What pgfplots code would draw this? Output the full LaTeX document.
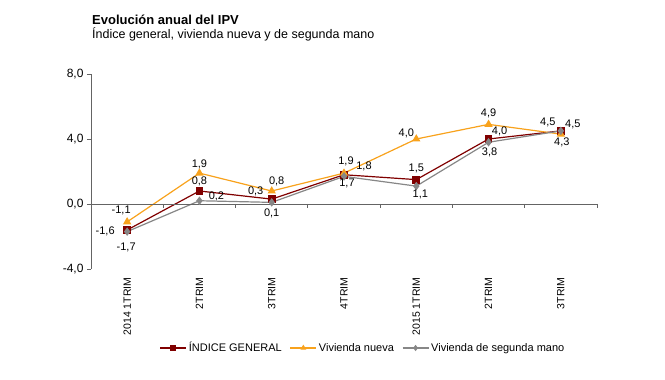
\documentclass[border=0pt]{standalone}
\usepackage{pgfplots}
\pgfplotsset{compat=1.18}
\usepackage{fontspec}
\setmainfont{Liberation Sans}
\definecolor{cgen}{RGB}{128,0,0}
\definecolor{cnew}{RGB}{248,162,28}
\definecolor{csec}{RGB}{135,135,135}
\definecolor{axgray}{RGB}{100,100,100}
\begin{document}
\begin{tikzpicture}
\useasboundingbox (-91pt,-111pt) rectangle (574pt,269pt);
\begin{axis}[
  scale only axis, width=506pt, height=195pt,
  xmin=-0.5, xmax=6.5, ymin=-4, ymax=8,
  clip=false,
  axis x line*=bottom, axis y line*=left,
  x axis line style={draw=none},
  y axis line style={draw=axgray, line width=0.8pt},
  xtick={0,...,6},
  xticklabels={2014 1TRIM,2TRIM,3TRIM,4TRIM,2015 1TRIM,2TRIM,3TRIM},
  xtick style={draw=none},
  xticklabel style={rotate=90, anchor=east, font=\fontsize{10.5}{12}\selectfont},
  xticklabel shift=1pt,
  ytick={-4,0,4,8},
  ytick style={draw=axgray, line width=0.8pt},
  tick align=outside, major tick length=4pt,
  yticklabel style={font=\fontsize{12}{14}\selectfont},
  /pgf/number format/.cd, fixed, fixed zerofill, precision=1, use comma, assume math mode=true,
  /pgfplots/.cd,
  legend style={at={(0.5375,-0.405)}, anchor=center, draw=none, fill=none,
    legend columns=3, font=\fontsize{11}{13}\selectfont,
    /tikz/every even column/.append style={column sep=6pt}},
  legend cell align=left,
  legend image code/.code={\draw[mark repeat=2,mark phase=2,mark size=2.2pt] plot coordinates {(0pt,0pt) (13pt,0pt) (26pt,0pt)};},
  nodes near coords={\pgfmathprintnumber[fixed,fixed zerofill,precision=1,use comma,assume math mode=true]{\pgfplotspointmeta}},
  visualization depends on={value \thisrow{dx}\as\dx},
  visualization depends on={value \thisrow{dy}\as\dy},
  every node near coord/.append style={anchor=center, xshift=\dx pt, yshift=\dy pt, font=\fontsize{11}{13}\selectfont, inner sep=0pt, text=black},
]
\addplot[cgen, line width=1.2pt, mark=square*, mark size=3.3pt, mark options={fill=cgen}] table[x=x,y=y] {
x y dx dy
0 -1.6 -22 -1
1 0.8 0 10
2 0.3 -16 8
3 1.8 20 8
4 1.5 0 11
5 4.0 11 8
6 4.5 -13 8
};
\addlegendentry{ÍNDICE GENERAL}
\addplot[cnew, line width=1.2pt, mark=triangle*, mark size=3.6pt, mark options={fill=cnew}] table[x=x,y=y] {
x y dx dy
0 -1.1 -6 11
1 1.9 0 9
2 0.8 5 10
3 1.9 2 12
4 4.0 -10 6
5 4.9 0 11
6 4.3 1 -8
};
\addlegendentry{Vivienda nueva}
\addplot[csec, line width=1.2pt, mark=diamond*, mark size=3.3pt, mark options={fill=csec}] table[x=x,y=y] {
x y dx dy
0 -1.7 -1 -16
1 0.2 17 4
2 0.1 0 -11
3 1.7 3 -7
4 1.1 4 -8
5 3.8 1 -10
6 4.5 12 6
};
\addlegendentry{Vivienda de segunda mano}
\draw[axgray, line width=0.8pt] (axis cs:-0.5,0) -- (axis cs:6.5,0);
\pgfplotsinvokeforeach{0.5,1.5,2.5,3.5,4.5,5.5,6.5}{
  \draw[axgray, line width=0.8pt] (axis cs:#1,0) -- ([yshift=-4pt]axis cs:#1,0);
}
\end{axis}
\node[anchor=base west, inner sep=0, font=\bfseries\fontsize{13}{15}\selectfont] at (1pt,244pt) {Evolución anual del IPV};
\node[anchor=base west, inner sep=0, font=\fontsize{12.5}{15}\selectfont] at (1pt,230pt) {Índice general, vivienda nueva y de segunda mano};
\end{tikzpicture}
\end{document}
